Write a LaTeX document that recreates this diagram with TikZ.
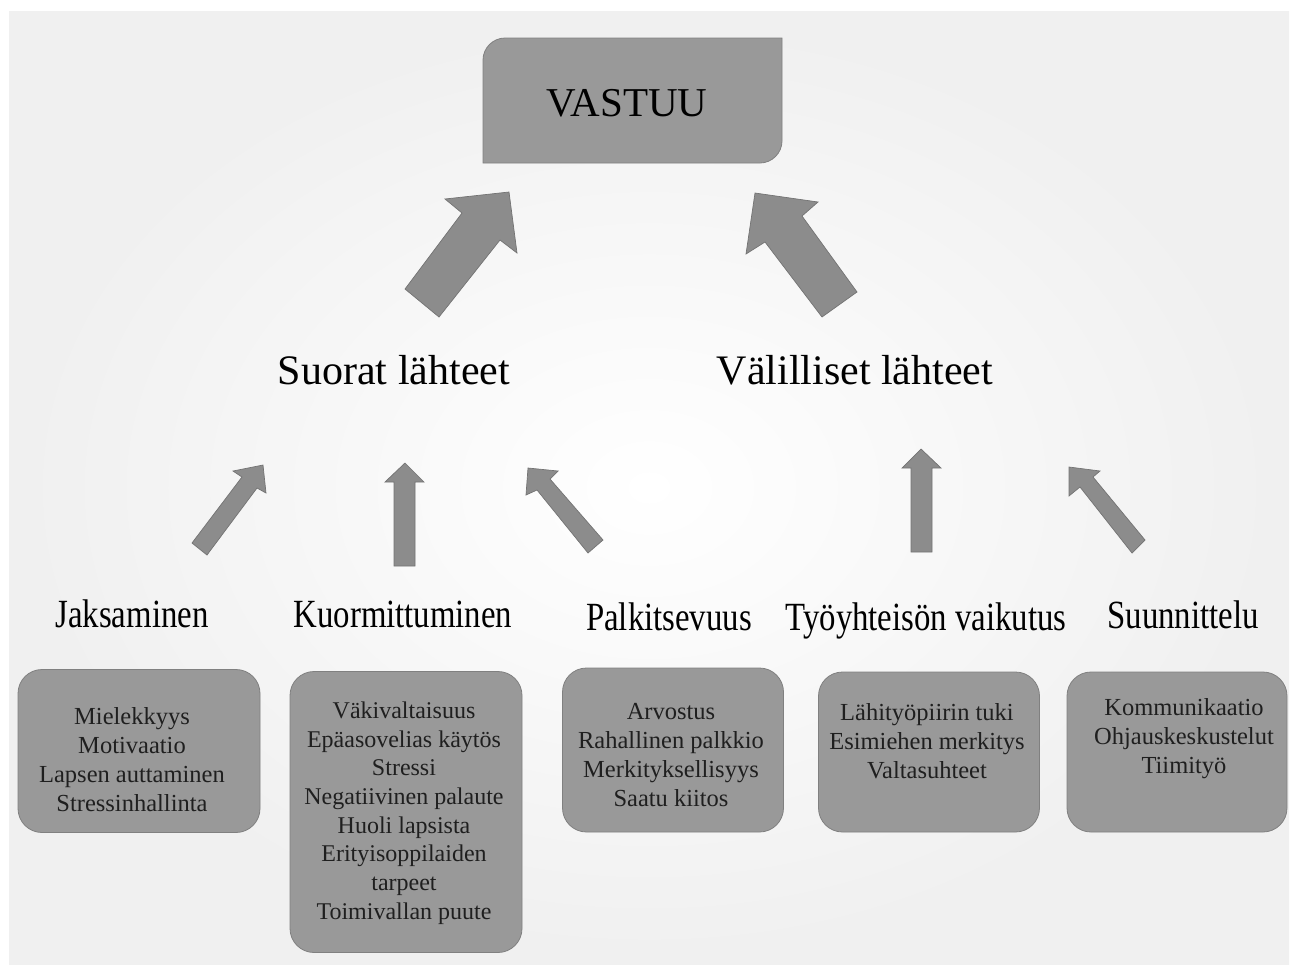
\documentclass[tikz,border=0pt]{standalone}
\usepackage{fontspec}
\setmainfont{Liberation Serif}
\begin{document}
\begin{tikzpicture}[x=1pt,y=-1pt,
  blockarrow/.style={fill=black!45, draw=black!55, line width=0.7pt, line join=miter},
  itembox/.style={draw=black!50, fill=black!40, rounded corners=24pt, line width=0.8pt, inner sep=0pt},
  boxtext/.style={align=center, font=\fontsize{24.5}{29}\selectfont, text=black!88, inner sep=0pt},
  headlabel/.style={font=\fontsize{42}{50}\selectfont, anchor=base, inner sep=0pt},
  sublabel/.style={font=\fontsize{40}{48}\selectfont, anchor=base, inner sep=0pt}]
% page and background
\useasboundingbox (0,0) rectangle (1293,970);
\fill[white] (0,0) rectangle (1293,970);
\shade[inner color=white, outer color=black!6] (9,11) rectangle (1289,964);
% VASTUU box
\filldraw[fill=black!40, draw=black!50, line width=0.8pt]
  (483,60) .. controls (483,48) and (493,38) .. (505,38) -- (782,38) -- (782,141)
  .. controls (782,153) and (772,163) .. (760,163) -- (483,163) -- cycle;
\node[headlabel, font=\fontsize{41}{48}\selectfont] (vastuu) at (627,116) {VASTUU};
% big arrows
\fill[blockarrow] (439,317) -- (500,240) -- (517,253) -- (509,192) -- (445,199) -- (462,213) -- (405,289) -- cycle;
\fill[blockarrow] (822,317) -- (765,242) -- (746,254) -- (755,193) -- (818,202) -- (802,216) -- (857,292) -- cycle;
% level labels
\node[headlabel] (suorat) at (394,384) {Suorat lähteet};
\node[headlabel] (valilliset) at (855,384) {Välilliset lähteet};
% small arrows
\fill[blockarrow] (207,555) -- (257,488) -- (266,493) -- (263,465) -- (233,471) -- (242,477) -- (192,543) -- cycle;
\fill[blockarrow] (394,566) -- (394,482) -- (385,482) -- (405,463) -- (424,482) -- (415,482) -- (415,566) -- cycle;
\fill[blockarrow] (588,553) -- (537,490) -- (526,495) -- (528,468) -- (558,471) -- (550,479) -- (603,540) -- cycle;
\fill[blockarrow] (911,552) -- (911,468) -- (902,468) -- (921,449) -- (941,468) -- (932,468) -- (932,552) -- cycle;
\fill[blockarrow] (1132,553) -- (1080,487) -- (1069,496) -- (1069,467) -- (1100,471) -- (1093,477) -- (1145,540) -- cycle;
% category labels
\node[sublabel] (jaks) at (132,627) {\scalebox{0.82}[1]{Jaksaminen}};
\node[sublabel] (kuor) at (403,627) {\scalebox{0.82}[1]{Kuormittuminen}};
\node[sublabel] (palk) at (669,630) {\scalebox{0.82}[1]{Palkitsevuus}};
\node[sublabel] (tyo) at (926,630) {\scalebox{0.82}[1]{Työyhteisön vaikutus}};
\node[sublabel] (suun) at (1183,628) {\scalebox{0.82}[1]{Suunnittelu}};
% boxes
\node[itembox, minimum width=242pt, minimum height=163pt] (b1) at (139,751) {};
\node[itembox, minimum width=232pt, minimum height=281pt] (b2) at (406,812) {};
\node[itembox, minimum width=221pt, minimum height=164pt] (b3) at (673,750) {};
\node[itembox, minimum width=221pt, minimum height=160pt] (b4) at (929,752) {};
\node[itembox, minimum width=220pt, minimum height=160pt] (b5) at (1177,752) {};
% box texts
\node[boxtext] (t1) at (132,760) {Mielekkyys\\Motivaatio\\Lapsen auttaminen\\Stressinhallinta};
\node[boxtext, font=\fontsize{24}{28.7}\selectfont] (t2) at (404,813) {Väkivaltaisuus\\Epäasovelias käytös\\Stressi\\Negatiivinen palaute\\Huoli lapsista\\Erityisoppilaiden\\tarpeet\\Toimivallan puute};
\node[boxtext] (t3) at (671,755) {Arvostus\\Rahallinen palkkio\\Merkityksellisyys\\Saatu kiitos};
\node[boxtext] (t4) at (927,741) {Lähityöpiirin tuki\\Esimiehen merkitys\\Valtasuhteet};
\node[boxtext] (t5) at (1184,739) {Kommunikaatio\\Ohjauskeskustelut\\Tiimityö};
\end{tikzpicture}
\end{document}
